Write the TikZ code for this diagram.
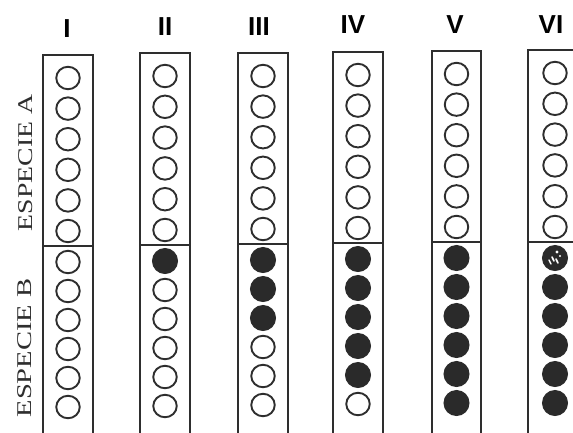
\documentclass[tikz,border=0pt]{standalone}
\usepackage{fontspec}
\setmainfont{Liberation Serif}
\newfontfamily\labfont{Liberation Sans}
\usepackage{graphicx}
\definecolor{ink}{HTML}{2E2E2E}
\definecolor{fillink}{HTML}{2A2A2A}
\tikzset{
  colbox/.style={draw=ink, line width=1.7pt},
  opendot/.style={ellipse, draw=ink, line width=1.9pt, minimum width=23.5pt, minimum height=22.5pt, inner sep=0pt, fill=white},
  fulldot/.style={circle, draw=fillink, line width=1pt, minimum size=25pt, inner sep=0pt, fill=fillink},
  numlabel/.style={font=\labfont\bfseries\fontsize{26}{26}\selectfont, anchor=base, inner sep=0pt},
  sidelabel/.style={font=\fontsize{21}{21}\selectfont, text=ink, rotate=90, inner sep=0pt}
}
\usetikzlibrary{shapes.geometric}
\begin{document}
\begin{tikzpicture}[x=1pt,y=-1pt]
\useasboundingbox (0,0) rectangle (573,432);
\clip (0,0) rectangle (573,432);
\fill[white] (0,0) rectangle (573,432);
% labels
\node[numlabel] (lI)   at (67,37)  {I};
\node[numlabel] (lII)  at (165,35) {II};
\node[numlabel] (lIII) at (259,35) {III};
\node[numlabel] (lIV)  at (353,33) {IV};
\node[numlabel] (lV)   at (455,33) {V};
\node[numlabel] (lVI)  at (551,33) {VI};
\node[sidelabel] (spA) at (26,163) {\scalebox{1.32}[1]{ESPECIE A}};
\node[sidelabel] (spB) at (25,348) {\scalebox{1.36}[1]{ESPECIE B}};
% columns: name / left / right / top / divider / filled count
\foreach \nm/\L/\R/\T/\D/\nf in {c1/43/93/55/246/0, c2/140/190/53/245/1, c3/238/288/53/244/3, c4/333/383/52/243/5, c5/432/481/51/242/6, c6/528/582/50/242/6}{
  \draw[colbox] (\L,440) -- (\L,\T) -- (\R,\T) -- (\R,440);
  \draw[colbox] (\L,\D) -- (\R,\D);
  \pgfmathsetmacro{\cx}{(\L+\R)/2}
  \foreach \k in {0,...,5}{
    \pgfmathsetmacro{\ay}{\T+23+\k*(\D-15-\T-23)/5}
    \node[opendot] (\nm a\k) at (\cx,\ay) {};
    \pgfmathsetmacro{\by}{\D+16+\k*29}
    \ifnum\k<\nf
      \node[fulldot] (\nm b\k) at (\cx,\by) {};
    \else
      \node[opendot] (\nm b\k) at (\cx,\by) {};
    \fi
  }
}
% speckled first dot of column VI
\draw[white, line width=1.6pt, line cap=round] ([shift={(-3,-1)}]c6b0.center) -- ([shift={(-1,3)}]c6b0.center);
\draw[white, line width=1.6pt, line cap=round] ([shift={(1,1)}]c6b0.center) -- ([shift={(3,5)}]c6b0.center);
\draw[white, line width=1.4pt, line cap=round] ([shift={(-6,2)}]c6b0.center) -- ([shift={(-4,6)}]c6b0.center);
\fill[white] ([shift={(2,-6)}]c6b0.center) circle (1.6);
\fill[white] ([shift={(5,-2)}]c6b0.center) circle (1.2);
\end{tikzpicture}
\end{document}
